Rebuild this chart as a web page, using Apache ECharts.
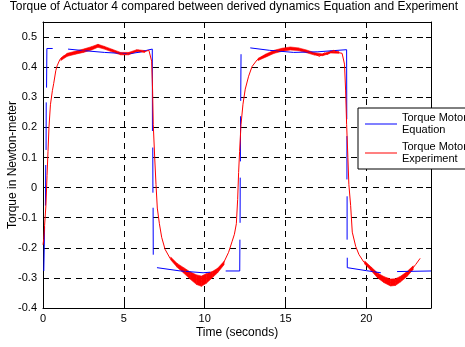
<!DOCTYPE html>
<html>
<head>
<meta charset="utf-8">
<script src="https://cdn.jsdelivr.net/npm/echarts@6/dist/echarts.min.js"></script>
<style>
  html, body { margin: 0; padding: 0; background: #fff; }
  #chart { width: 465px; height: 347px; }
</style>
</head>
<body>
<div id="chart"></div>
<script>
// Equation torque (blue); null torque entries break the trace.
var eqTime = [
  0.05, 0.10, 0.12,
  0.15, 0.17, 0.18,
  0.19, 0.20, 0.21,
  0.22, 0.24, 0.60, 1.0,
  1.55, 2.5, 3.8, 4.76, 5.4, 6.0, 6.5, 6.76, 6.77, 6.78,
  6.79, 6.80, 6.805,
  6.81, 6.82, 6.9,
  7.05, 8.5, 9.9, 10.35, 10.8,
  11.3, 12.17, 12.18, 12.185,
  12.19, 12.20, 12.205,
  12.21, 12.22, 12.225,
  12.23, 12.25, 12.5,
  12.82, 14.0, 15.5, 17.0, 18.0, 18.78, 18.79, 18.795,
  18.80, 18.80, 18.805,
  18.81, 18.81, 18.815,
  18.82, 18.82, 20.0, 20.9, 21.4,
  21.9, 24.0
];
var eqTorque = [
  -0.277, -0.13, null,
  -0.06, 0.075, null,
  0.125, 0.283, null,
  0.332, 0.462, 0.462, null,
  0.460, 0.455, 0.449, 0.446, 0.445, 0.450, 0.457, 0.460, 0.188, null,
  0.133, -0.017, null,
  -0.067, -0.223, null,
  -0.266, -0.277, -0.283, -0.281, null,
  -0.277, -0.277, -0.173, null,
  -0.117, 0.033, null,
  0.087, 0.237, null,
  0.288, 0.443, null,
  0.464, 0.456, 0.449, 0.451, 0.455, 0.458, 0.227, null,
  0.171, 0.027, null,
  -0.029, -0.173, null,
  -0.233, -0.266, -0.276, -0.283, null,
  -0.279, -0.277
];

// Experiment torque (red), measured trace.
var expTime = [
  0, 0.05, 0.10, 0.18, 0.25, 0.31, 0.37, 0.46, 0.58, 0.66, 0.79, 0.87,
  1.04, 1.24, 1.66, 2.07, 2.5, 2.9, 3.2, 3.41, 3.6, 3.93, 4.3, 4.65,
  5.07, 5.58, 5.9, 6.1, 6.31, 6.55, 6.65, 6.72, 6.78, 6.82, 6.91, 6.99,
  7.07, 7.2, 7.34, 7.55, 7.86, 8.27, 8.69, 9.1, 9.52, 9.75, 9.95, 10.14,
  10.5, 10.76, 11.17, 11.48, 11.69, 11.84, 11.96, 12.04, 12.1, 12.16, 12.25, 12.37,
  12.51, 12.72, 12.93, 13.24, 13.65, 14.27, 14.89, 15.3, 15.6, 16.13, 16.75, 17.1,
  17.2, 17.4, 17.6, 17.8, 17.99, 18.2, 18.5, 18.61, 18.65, 18.72, 18.78, 18.86,
  18.92, 19.03, 19.13, 19.34, 19.54, 19.85, 20.27, 20.78, 21.3, 21.61, 21.92, 22.33,
  22.75, 23.06, 23.33
];
var expTorque = [
  -0.19, -0.17, -0.125, -0.06, 0.04, 0.12, 0.20, 0.275, 0.322, 0.345, 0.388, 0.404,
  0.425, 0.436, 0.443, 0.449, 0.455, 0.462, 0.466, 0.473, 0.468, 0.462, 0.455, 0.447,
  0.443, 0.449, 0.456, 0.452, 0.452, 0.456, 0.450, 0.420, 0.321, 0.21, 0.099, 0.01,
  -0.068, -0.12, -0.165, -0.205, -0.235, -0.258, -0.274, -0.292, -0.305, -0.312, -0.310, -0.300,
  -0.288, -0.275, -0.250, -0.215, -0.180, -0.155, -0.120, -0.04, 0.05, 0.12, 0.21, 0.277,
  0.327, 0.37, 0.402, 0.424, 0.438, 0.451, 0.458, 0.462, 0.462, 0.455, 0.445, 0.436,
  0.432, 0.447, 0.442, 0.451, 0.456, 0.449, 0.446, 0.452, 0.41, 0.321, 0.21, 0.099,
  0.01, -0.06, -0.148, -0.195, -0.222, -0.248, -0.270, -0.298, -0.310, -0.318, -0.308, -0.292,
  -0.276, -0.255, -0.235
];

// Spread of the measured noise (lower / upper edge); null breaks between stretches.
var bandTime = [
  1.1, 1.5, 2.0, 2.5, 3.0, 3.4, 3.8, 4.3, 4.8, 5.3, 5.8, 6.3, 7.0,
  7.9, 8.3, 8.7, 9.1, 9.5, 9.8, 10.1, 10.5, 10.8, 11.2, 12.0,
  13.3, 13.8, 14.3, 14.8, 15.3, 15.8, 16.3, 16.8, 17.3, 17.8, 18.3, 19.0,
  19.9, 20.3, 20.7, 21.1, 21.5, 21.8, 22.1, 22.5, 22.9
];
var bandLow = [
  0.422, 0.436, 0.443, 0.449, 0.457, 0.466, 0.460, 0.450, 0.441, 0.441, 0.452, 0.449, null,
  -0.240, -0.265, -0.284, -0.304, -0.322, -0.328, -0.318, -0.298, -0.283, -0.256, null,
  0.422, 0.434, 0.446, 0.453, 0.457, 0.455, 0.448, 0.440, 0.438, 0.447, 0.446, null,
  -0.254, -0.276, -0.300, -0.316, -0.327, -0.325, -0.314, -0.296, -0.272
];
var bandHigh = [
  0.430, 0.446, 0.453, 0.460, 0.468, 0.476, 0.469, 0.459, 0.449, 0.449, 0.458, 0.455, null,
  -0.231, -0.252, -0.266, -0.280, -0.290, -0.294, -0.286, -0.278, -0.268, -0.245, null,
  0.429, 0.444, 0.456, 0.463, 0.467, 0.464, 0.457, 0.448, 0.444, 0.454, 0.452, null,
  -0.244, -0.264, -0.284, -0.296, -0.304, -0.303, -0.295, -0.280, -0.260
];

var xTicks = { min: 0, max: 24, interval: 5 };
var yTicks = { min: -0.4, max: 0.55, interval: 0.1 };

var nameEq = 'Torque Motor4\nEquation';
var nameExp = 'Torque Motor4\nExperiment';
var FONT = '"Liberation Sans", Arial, sans-serif';

function pairs(xs, ys) {
  return xs.map(function (x, i) { return [x, ys[i]]; });
}

var eqData = pairs(eqTime, eqTorque);
var expData = pairs(expTime, expTorque);

// One quad per pair of neighbouring band samples: [t0, lo0, hi0, t1, lo1, hi1].
var bandQuads = [];
for (var i = 0; i + 1 < bandTime.length; i++) {
  if (bandLow[i] === null || bandLow[i + 1] === null) continue;
  bandQuads.push([bandTime[i], bandLow[i], bandHigh[i], bandTime[i + 1], bandLow[i + 1], bandHigh[i + 1]]);
}

function renderBand(params, api) {
  var a = api.coord([api.value(0), api.value(1)]);
  var b = api.coord([api.value(3), api.value(4)]);
  var c = api.coord([api.value(3), api.value(5)]);
  var d = api.coord([api.value(0), api.value(2)]);
  return {
    type: 'polygon',
    shape: { points: [a, b, c, d] },
    style: { fill: '#ff0000', stroke: '#ff0000', lineWidth: 0.6 }
  };
}

function yLabel(v) {
  var r = Math.round(v * 10) / 10;
  return r === 0 ? '0' : String(r);
}

var dash = [6, 5];

var option = {
  animation: false,
  backgroundColor: '#fff',
  title: {
    text: 'Torque of Actuator 4 compared between derived dynamics Equation and Experiment',
    left: 234,
    top: 1,
    padding: 0,
    textAlign: 'center',
    textStyle: { fontFamily: FONT, fontSize: 12, fontWeight: 'normal', color: '#000' }
  },
  legend: {
    data: [
      { name: nameEq, icon: 'rect' },
      { name: nameExp, icon: 'rect' }
    ],
    orient: 'vertical',
    left: 358,
    top: 108,
    z: 20,
    padding: [4, 8, 4, 7],
    itemGap: 5,
    itemWidth: 32,
    itemHeight: 1,
    backgroundColor: '#fff',
    borderColor: '#000',
    borderWidth: 1,
    borderRadius: 0,
    textStyle: { fontFamily: FONT, fontSize: 11, color: '#000', lineHeight: 12 }
  },
  grid: { left: 43, right: 34, top: 22, bottom: 39, containLabel: false, outerBoundsMode: 'none' },
  xAxis: [{
    type: 'value',
    min: xTicks.min, max: xTicks.max, interval: xTicks.interval,
    position: 'bottom',
    name: 'Time (seconds)',
    nameLocation: 'middle',
    nameGap: 19,
    nameMoveOverlap: false,
    nameTextStyle: { fontFamily: FONT, fontSize: 12, color: '#000' },
    axisLine: { show: true, onZero: false, lineStyle: { color: '#000', width: 1 } },
    axisTick: { show: true, inside: true, length: 6, lineStyle: { color: '#000' } },
    axisLabel: { fontFamily: FONT, fontSize: 11, color: '#000', margin: 5, showMaxLabel: false },
    splitLine: { show: true, lineStyle: { color: '#000', width: 1, type: dash } }
  }, {
    type: 'value',
    min: xTicks.min, max: xTicks.max, interval: xTicks.interval,
    position: 'top',
    axisLine: { show: true, onZero: false, lineStyle: { color: '#000', width: 1 } },
    axisTick: { show: true, inside: true, length: 6, lineStyle: { color: '#000' } },
    axisLabel: { show: false },
    splitLine: { show: false }
  }],
  yAxis: [{
    type: 'value',
    min: yTicks.min, max: yTicks.max, interval: yTicks.interval,
    position: 'left',
    name: 'Torque in Newton-meter',
    nameLocation: 'middle',
    nameGap: 30,
    nameMoveOverlap: false,
    nameTextStyle: { fontFamily: FONT, fontSize: 12, color: '#000', verticalAlign: 'middle' },
    axisLine: { show: true, onZero: false, lineStyle: { color: '#000', width: 1 } },
    axisTick: { show: true, inside: true, length: 5, lineStyle: { color: '#000' } },
    axisLabel: { fontFamily: FONT, fontSize: 11, color: '#000', margin: 6, showMaxLabel: false, formatter: yLabel },
    splitLine: { show: true, lineStyle: { color: '#000', width: 1, type: dash } }
  }, {
    type: 'value',
    min: yTicks.min, max: yTicks.max, interval: yTicks.interval,
    position: 'right',
    axisLine: { show: true, onZero: false, lineStyle: { color: '#000', width: 1 } },
    axisTick: { show: true, inside: true, length: 5, lineStyle: { color: '#000' } },
    axisLabel: { show: false },
    splitLine: { show: false }
  }],
  series: [{
    name: nameEq,
    type: 'line',
    data: eqData,
    symbol: 'none',
    connectNulls: false,
    lineStyle: { color: '#0000ff', width: 1 },
    itemStyle: { color: '#0000ff' }
  }, {
    name: 'noise spread',
    type: 'custom',
    data: bandQuads,
    renderItem: renderBand,
    encode: { x: [0, 3], y: [1, 2, 4, 5] },
    silent: true,
    clip: true
  }, {
    name: nameExp,
    type: 'line',
    data: expData,
    symbol: 'none',
    lineStyle: { color: '#ff0000', width: 1 },
    itemStyle: { color: '#ff0000' }
  }]
};

var chart = echarts.init(document.getElementById('chart'), null, { renderer: 'canvas' });
chart.setOption(option);
</script>
</body>
</html>
